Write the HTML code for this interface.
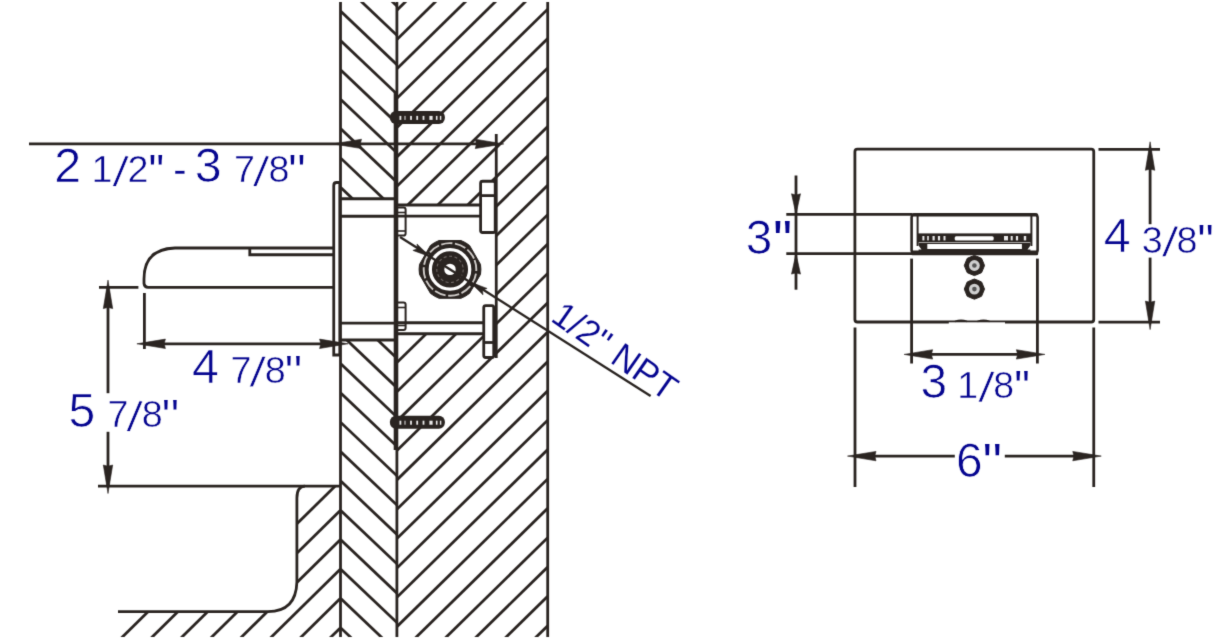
<!DOCTYPE html>
<html><head><meta charset="utf-8"><title>diagram</title>
<style>html,body{margin:0;padding:0;background:#fff}svg{display:block}</style></head>
<body><svg width="1214" height="640" viewBox="0 0 1214 640">
<filter id="soft" x="0" y="0" width="1214" height="640" filterUnits="userSpaceOnUse" color-interpolation-filters="sRGB"><feConvolveMatrix order="3" kernelMatrix="0.0133 0.0888 0.0133 0.0888 0.5917 0.0888 0.0133 0.0888 0.0133" edgeMode="duplicate" preserveAlpha="true"/></filter>
<g filter="url(#soft)">
<rect width="1214" height="640" fill="#fff"/>
<defs>
<clipPath id="cl"><rect x="340.5" y="2.0" width="56.4" height="196.75"/><rect x="340.5" y="340" width="56.4" height="297.0"/></clipPath>
<clipPath id="cr"><path clip-rule="evenodd" d="M396.9 2.0H547.7V637.0H396.9Z M396.9 205H480.6V181.2H496.2V357.5H483.7V333.75H396.9Z"/></clipPath>
<clipPath id="cs"><path d="M340.5 486.1H305Q296.9 486.3 296.9 498V582Q296 611.6 268 611.6H118L96 637.0H340.5Z"/></clipPath>
<clipPath id="cs2"><rect x="90" y="611.6" width="200" height="25.4"/></clipPath>
</defs>
<g clip-path="url(#cl)" stroke="#2a2421" stroke-width="2.8" fill="none">
<line x1="340.50" y1="-76.98" x2="396.90" y2="-23.40"/>
<line x1="340.50" y1="-47.62" x2="396.90" y2="5.96"/>
<line x1="340.50" y1="-18.26" x2="396.90" y2="35.32"/>
<line x1="340.50" y1="11.10" x2="396.90" y2="64.68"/>
<line x1="340.50" y1="40.46" x2="396.90" y2="94.04"/>
<line x1="340.50" y1="69.82" x2="396.90" y2="123.40"/>
<line x1="340.50" y1="99.18" x2="396.90" y2="152.76"/>
<line x1="340.50" y1="128.54" x2="396.90" y2="182.12"/>
<line x1="340.50" y1="157.90" x2="396.90" y2="211.48"/>
<line x1="340.50" y1="187.26" x2="396.90" y2="240.84"/>
<line x1="340.50" y1="216.62" x2="396.90" y2="270.20"/>
<line x1="340.50" y1="245.98" x2="396.90" y2="299.56"/>
<line x1="340.50" y1="275.34" x2="396.90" y2="328.92"/>
<line x1="340.50" y1="304.70" x2="396.90" y2="358.28"/>
<line x1="340.50" y1="334.06" x2="396.90" y2="387.64"/>
<line x1="340.50" y1="363.42" x2="396.90" y2="417.00"/>
<line x1="340.50" y1="392.78" x2="396.90" y2="446.36"/>
<line x1="340.50" y1="422.14" x2="396.90" y2="475.72"/>
<line x1="340.50" y1="451.50" x2="396.90" y2="505.08"/>
<line x1="340.50" y1="480.86" x2="396.90" y2="534.44"/>
<line x1="340.50" y1="510.22" x2="396.90" y2="563.80"/>
<line x1="340.50" y1="539.58" x2="396.90" y2="593.16"/>
<line x1="340.50" y1="568.94" x2="396.90" y2="622.52"/>
<line x1="340.50" y1="598.30" x2="396.90" y2="651.88"/>
<line x1="340.50" y1="627.66" x2="396.90" y2="681.24"/>
<line x1="340.50" y1="657.02" x2="396.90" y2="710.60"/>
</g>
<g clip-path="url(#cr)" stroke="#2a2421" stroke-width="2.8" fill="none">
<line x1="396.90" y1="10.14" x2="547.70" y2="-137.64"/>
<line x1="396.90" y1="39.50" x2="547.70" y2="-108.28"/>
<line x1="396.90" y1="68.86" x2="547.70" y2="-78.92"/>
<line x1="396.90" y1="98.22" x2="547.70" y2="-49.56"/>
<line x1="396.90" y1="127.58" x2="547.70" y2="-20.20"/>
<line x1="396.90" y1="156.94" x2="547.70" y2="9.16"/>
<line x1="396.90" y1="186.30" x2="547.70" y2="38.52"/>
<line x1="396.90" y1="215.66" x2="547.70" y2="67.88"/>
<line x1="396.90" y1="245.02" x2="547.70" y2="97.24"/>
<line x1="396.90" y1="274.38" x2="547.70" y2="126.60"/>
<line x1="396.90" y1="303.74" x2="547.70" y2="155.96"/>
<line x1="396.90" y1="333.10" x2="547.70" y2="185.32"/>
<line x1="396.90" y1="362.46" x2="547.70" y2="214.68"/>
<line x1="396.90" y1="391.82" x2="547.70" y2="244.04"/>
<line x1="396.90" y1="421.18" x2="547.70" y2="273.40"/>
<line x1="396.90" y1="450.54" x2="547.70" y2="302.76"/>
<line x1="396.90" y1="479.90" x2="547.70" y2="332.12"/>
<line x1="396.90" y1="509.26" x2="547.70" y2="361.48"/>
<line x1="396.90" y1="538.62" x2="547.70" y2="390.84"/>
<line x1="396.90" y1="567.98" x2="547.70" y2="420.20"/>
<line x1="396.90" y1="597.34" x2="547.70" y2="449.56"/>
<line x1="396.90" y1="626.70" x2="547.70" y2="478.92"/>
<line x1="396.90" y1="656.06" x2="547.70" y2="508.28"/>
<line x1="396.90" y1="685.42" x2="547.70" y2="537.64"/>
<line x1="396.90" y1="714.78" x2="547.70" y2="567.00"/>
<line x1="396.90" y1="744.14" x2="547.70" y2="596.36"/>
<line x1="396.90" y1="773.50" x2="547.70" y2="625.72"/>
<line x1="396.90" y1="802.86" x2="547.70" y2="655.08"/>
<line x1="396.90" y1="832.22" x2="547.70" y2="684.44"/>
</g>
<g clip-path="url(#cs)" stroke="#2a2421" stroke-width="2.8" fill="none">
<line x1="340.50" y1="480.86" x2="90.00" y2="727.60"/>
<line x1="340.50" y1="510.22" x2="90.00" y2="756.96"/>
<line x1="340.50" y1="539.58" x2="90.00" y2="786.32"/>
<line x1="340.50" y1="568.94" x2="90.00" y2="815.68"/>
<line x1="340.50" y1="598.30" x2="90.00" y2="845.04"/>
<line x1="340.50" y1="627.66" x2="90.00" y2="874.40"/>
<line x1="340.50" y1="657.02" x2="90.00" y2="903.76"/>
</g>
<g clip-path="url(#cs2)" stroke="#2a2421" stroke-width="2.8" fill="none">
<line x1="340.50" y1="422.14" x2="90.00" y2="668.88"/>
<line x1="340.50" y1="451.50" x2="90.00" y2="698.24"/>
</g>
<line x1="340.5" y1="2.0" x2="340.5" y2="637.0" stroke="#2a2421" stroke-width="2.8" />
<line x1="396.9" y1="2.0" x2="396.9" y2="637.0" stroke="#2a2421" stroke-width="2.8" />
<line x1="395.0" y1="92" x2="395.0" y2="450" stroke="#2a2421" stroke-width="2.6" />
<line x1="547.7" y1="2.0" x2="547.7" y2="637.0" stroke="#2a2421" stroke-width="2.8" />
<path d="M98 486.1H340.5" stroke="#2a2421" stroke-width="2.8" fill="none" />
<path d="M305 486.1Q296.9 486.3 296.9 498V582Q296 611.6 268 611.6H118" stroke="#2a2421" stroke-width="2.8" fill="none" />
<path d="M340.5 182.5H336.5Q333.75 182.5 333.75 185.5V355H340.5" stroke="#2a2421" stroke-width="2.8" fill="none" />
<line x1="339.4" y1="184" x2="339.4" y2="355" stroke="#2a2421" stroke-width="2" />
<line x1="340.5" y1="198.75" x2="396.9" y2="198.75" stroke="#2a2421" stroke-width="2.8" />
<line x1="340.5" y1="216.25" x2="396.9" y2="216.25" stroke="#2a2421" stroke-width="2.8" />
<line x1="340.5" y1="323.1" x2="396.9" y2="323.1" stroke="#2a2421" stroke-width="2.8" />
<line x1="340.5" y1="340" x2="396.9" y2="340" stroke="#2a2421" stroke-width="2.8" />
<line x1="396.9" y1="205" x2="480.6" y2="205" stroke="#2a2421" stroke-width="2.8" />
<line x1="396.9" y1="216.2" x2="480.6" y2="216.2" stroke="#2a2421" stroke-width="2.8" />
<line x1="396.9" y1="322.75" x2="483.75" y2="322.75" stroke="#2a2421" stroke-width="2.8" />
<line x1="396.9" y1="333.75" x2="483.75" y2="333.75" stroke="#2a2421" stroke-width="2.8" />
<path d="M396.9 207.5H403.5Q405.6 207.5 405.6 209.5V233.5Q405.6 235.6 403.5 235.6H396.9" stroke="#2a2421" stroke-width="2" fill="none" />
<line x1="396.9" y1="212.5" x2="405" y2="212.5" stroke="#2a2421" stroke-width="1.6" />
<line x1="396.9" y1="231" x2="405" y2="231" stroke="#2a2421" stroke-width="1.6" />
<path d="M396.9 302.5H403.5Q405.6 302.5 405.6 304.5V328Q405.6 330 403.5 330H396.9" stroke="#2a2421" stroke-width="2" fill="none" />
<line x1="396.9" y1="307.5" x2="405" y2="307.5" stroke="#2a2421" stroke-width="1.6" />
<line x1="396.9" y1="325.5" x2="405" y2="325.5" stroke="#2a2421" stroke-width="1.6" />
<rect x="480.6" y="181.25" width="14.6" height="51.25" rx="2" fill="#fff" stroke="#2a2421" stroke-width="2.8"/>
<line x1="480.6" y1="195.6" x2="495" y2="195.6" stroke="#2a2421" stroke-width="2.8" />
<rect x="483.75" y="305.6" width="10" height="51.9" rx="2" fill="#fff" stroke="#2a2421" stroke-width="2.8"/>
<line x1="483.75" y1="342.5" x2="493.75" y2="342.5" stroke="#2a2421" stroke-width="2.8" />
<line x1="496.25" y1="134" x2="496.25" y2="358" stroke="#2a2421" stroke-width="2.8" />
<path d="M333.75 248H175Q144 249 144 279V283.5Q144.5 287.4 148 287.4H333.75" stroke="#2a2421" stroke-width="2.8" fill="none" />
<path d="M249.8 248V254.75H333.75" stroke="#2a2421" stroke-width="2.8" fill="none" />
<line x1="29" y1="143.9" x2="496.25" y2="143.9" stroke="#2a2421" stroke-width="2.8" />
<polygon points="333.00,143.90 361.50,139.20 360.30,143.90 361.50,148.60" fill="#2a2421" stroke="#2a2421" stroke-width="0.6" stroke-linejoin="round"/>
<polygon points="503.75,143.90 475.25,148.60 476.45,143.90 475.25,139.20" fill="#2a2421" stroke="#2a2421" stroke-width="0.6" stroke-linejoin="round"/>
<line x1="144.4" y1="343.8" x2="340.6" y2="343.8" stroke="#2a2421" stroke-width="2.8" />
<line x1="144.4" y1="293" x2="144.4" y2="349" stroke="#2a2421" stroke-width="2.8" />
<polygon points="136.90,343.80 165.40,339.10 164.20,343.80 165.40,348.50" fill="#2a2421" stroke="#2a2421" stroke-width="0.6" stroke-linejoin="round"/>
<polygon points="348.10,343.80 319.60,348.50 320.80,343.80 319.60,339.10" fill="#2a2421" stroke="#2a2421" stroke-width="0.6" stroke-linejoin="round"/>
<line x1="99" y1="287.4" x2="138.4" y2="287.4" stroke="#2a2421" stroke-width="2.8" />
<line x1="108" y1="287.6" x2="108" y2="393.2" stroke="#2a2421" stroke-width="2.8" />
<line x1="108" y1="431.8" x2="108" y2="486" stroke="#2a2421" stroke-width="2.8" />
<polygon points="108.00,280.10 112.70,308.60 108.00,307.40 103.30,308.60" fill="#2a2421" stroke="#2a2421" stroke-width="0.6" stroke-linejoin="round"/>
<polygon points="108.00,493.50 103.30,465.00 108.00,466.20 112.70,465.00" fill="#2a2421" stroke="#2a2421" stroke-width="0.6" stroke-linejoin="round"/>
<line x1="400" y1="237" x2="650.6" y2="396" stroke="#2a2421" stroke-width="2.4" />
<path d="M439.06 240.50L460.94 240.50A30.9 30.9 0 0 1 469.56 245.48L480.50 264.42A30.9 30.9 0 0 1 480.50 274.38L469.56 293.32A30.9 30.9 0 0 1 460.94 298.30L439.06 298.30A30.9 30.9 0 0 1 430.44 293.32L419.50 274.38A30.9 30.9 0 0 1 419.50 264.42L430.44 245.48A30.9 30.9 0 0 1 439.06 240.50Z" fill="#2a2421" stroke="#2a2421" stroke-width="1" stroke-linejoin="round"/>
<circle cx="450" cy="269.4" r="26.3" fill="none" stroke="#cfcbc8" stroke-width="1.9" stroke-dasharray="11.2 2.57" transform="rotate(-21 450 269.4)"/>
<circle cx="450" cy="269.4" r="19.7" fill="none" stroke="#fff" stroke-width="3.3"/>
<circle cx="450" cy="269.4" r="13.2" fill="none" stroke="#6f6865" stroke-width="1.1" stroke-dasharray="3 2.53"/>
<circle cx="450" cy="269.4" r="5.7" fill="#fff"/>
<line x1="424.6685345102776" y1="253.32776132136524" x2="475.3314654897224" y2="285.4722386786347" stroke="#2a2421" stroke-width="2.4" />
<polygon points="430.16,256.81 412.92,250.38 417.49,248.77 416.99,243.96" fill="#2a2421" stroke="#2a2421" stroke-width="0.6" stroke-linejoin="round"/>
<polygon points="469.84,281.99 487.08,288.42 482.51,290.03 483.01,294.84" fill="#2a2421" stroke="#2a2421" stroke-width="0.6" stroke-linejoin="round"/>
<rect x="389.9" y="111.0" width="55" height="13" rx="6" fill="#2a2421"/>
<rect x="399.5" y="115.9" width="1.8" height="4" fill="#fff" opacity="0.9"/>
<rect x="404.5" y="115.9" width="1" height="4" fill="#fff" opacity="0.9"/>
<rect x="410.1" y="115.9" width="1.8" height="4" fill="#fff" opacity="0.9"/>
<rect x="416.3" y="115.9" width="1.8" height="4" fill="#fff" opacity="0.9"/>
<rect x="422.6" y="115.9" width="1.8" height="4" fill="#fff" opacity="0.9"/>
<rect x="429.4" y="115.9" width="3.2" height="4" fill="#fff" opacity="0.9"/>
<rect x="435.9" y="115.9" width="1.6" height="4" fill="#fff" opacity="0.9"/>
<rect x="439.90000000000003" y="115.9" width="1.4" height="4" fill="#fff" opacity="0.9"/>
<rect x="389.9" y="415.8" width="55" height="13" rx="6" fill="#2a2421"/>
<rect x="399.5" y="420.7" width="1.8" height="4" fill="#fff" opacity="0.9"/>
<rect x="404.5" y="420.7" width="1" height="4" fill="#fff" opacity="0.9"/>
<rect x="410.1" y="420.7" width="1.8" height="4" fill="#fff" opacity="0.9"/>
<rect x="416.3" y="420.7" width="1.8" height="4" fill="#fff" opacity="0.9"/>
<rect x="422.6" y="420.7" width="1.8" height="4" fill="#fff" opacity="0.9"/>
<rect x="429.4" y="420.7" width="3.2" height="4" fill="#fff" opacity="0.9"/>
<rect x="435.9" y="420.7" width="1.6" height="4" fill="#fff" opacity="0.9"/>
<rect x="439.90000000000003" y="420.7" width="1.4" height="4" fill="#fff" opacity="0.9"/>
<rect x="854.9" y="149.2" width="238.85" height="172.8" rx="2.5" fill="none" stroke="#2a2421" stroke-width="2.8"/>
<rect x="948.8" y="322.3" width="56.2" height="2.4" fill="#fff"/>
<path d="M955 321.4 Q961 319 967 321.4 M977.5 321.4 Q983.5 319 989.5 321.4" stroke="#2a2421" stroke-width="1.6" fill="none" />
<rect x="911.6" y="214.2" width="126" height="39" rx="3" fill="#fff" stroke="#2a2421" stroke-width="2.6"/>
<rect x="911" y="213.2" width="127.2" height="3.3" rx="1.5" fill="#2a2421"/>
<rect x="911" y="250.6" width="127.2" height="4.6" rx="1.5" fill="#2a2421"/>
<line x1="917.6" y1="215" x2="917.6" y2="246" stroke="#2a2421" stroke-width="2" />
<line x1="1031.4" y1="215" x2="1031.4" y2="246" stroke="#2a2421" stroke-width="2" />
<rect x="917.6" y="233.4" width="113.8" height="9" fill="#2a2421"/>
<rect x="954.7" y="236.2" width="39" height="4.2" rx="1.5" fill="#fff"/>
<rect x="922.4" y="236" width="2" height="4.4" fill="#fff" opacity="0.9"/>
<rect x="927.2" y="236" width="1.6" height="4.4" fill="#fff" opacity="0.9"/>
<rect x="932.5" y="236" width="2.2" height="4.4" fill="#fff" opacity="0.9"/>
<rect x="937.9" y="236" width="2.2" height="4.4" fill="#fff" opacity="0.9"/>
<rect x="943.5" y="236" width="2" height="4.4" fill="#fff" opacity="0.9"/>
<rect x="1004.0" y="236" width="4" height="4.4" fill="#fff" opacity="0.9"/>
<rect x="1010.7" y="236" width="2" height="4.4" fill="#fff" opacity="0.9"/>
<rect x="1015.9" y="236" width="2.2" height="4.4" fill="#fff" opacity="0.9"/>
<rect x="1023.8" y="236" width="2.4" height="4.4" fill="#fff" opacity="0.9"/>
<rect x="918.6" y="243" width="111.8" height="8" fill="#2a2421"/>
<rect x="927.3" y="244" width="94.6" height="5" fill="#fff"/>
<polygon points="914,249.6 921.5,249.6 918.5,245.5" fill="#fff"/>
<polygon points="1035,249.6 1027.5,249.6 1030.5,245.5" fill="#fff"/>
<line x1="911.6" y1="258.6" x2="911.6" y2="363.5" stroke="#2a2421" stroke-width="2.8" />
<line x1="1037.4" y1="258.6" x2="1037.4" y2="363.5" stroke="#2a2421" stroke-width="2.8" />
<polygon points="984.50,265.50 983.08,269.10 981.54,272.64 978.00,274.18 974.40,275.60 970.80,274.18 967.26,272.64 965.72,269.10 964.30,265.50 965.72,261.90 967.26,258.36 970.80,256.82 974.40,255.40 978.00,256.82 981.54,258.36 983.08,261.90" fill="#2a2421" stroke="#2a2421" stroke-width="1" stroke-linejoin="round"/>
<circle cx="974.4" cy="265.5" r="5.4" fill="#cfcfcf"/>
<circle cx="974.4" cy="265.5" r="2.3" fill="#555"/>
<polygon points="984.50,289.10 983.08,292.70 981.54,296.24 978.00,297.78 974.40,299.20 970.80,297.78 967.26,296.24 965.72,292.70 964.30,289.10 965.72,285.50 967.26,281.96 970.80,280.42 974.40,279.00 978.00,280.42 981.54,281.96 983.08,285.50" fill="#2a2421" stroke="#2a2421" stroke-width="1" stroke-linejoin="round"/>
<circle cx="974.4" cy="289.1" r="5.4" fill="#cfcfcf"/>
<circle cx="974.4" cy="289.1" r="2.3" fill="#555"/>
<line x1="786.3" y1="214.3" x2="912" y2="214.3" stroke="#2a2421" stroke-width="2.8" />
<line x1="786.3" y1="253.7" x2="912" y2="253.7" stroke="#2a2421" stroke-width="2.8" />
<line x1="796" y1="175.5" x2="796" y2="289.7" stroke="#2a2421" stroke-width="2.8" />
<polygon points="796.00,214.30 791.50,193.80 796.00,195.00 800.50,193.80" fill="#2a2421" stroke="#2a2421" stroke-width="0.6" stroke-linejoin="round"/>
<polygon points="796.00,253.60 800.50,274.10 796.00,272.90 791.50,274.10" fill="#2a2421" stroke="#2a2421" stroke-width="0.6" stroke-linejoin="round"/>
<line x1="1098.5" y1="149.4" x2="1160" y2="149.4" stroke="#2a2421" stroke-width="2.8" />
<line x1="1098.5" y1="322.1" x2="1160" y2="322.1" stroke="#2a2421" stroke-width="2.8" />
<line x1="1150.1" y1="149.3" x2="1150.1" y2="224.2" stroke="#2a2421" stroke-width="2.8" />
<line x1="1150.1" y1="257.6" x2="1150.1" y2="322" stroke="#2a2421" stroke-width="2.8" />
<polygon points="1150.10,141.80 1154.80,170.30 1150.10,169.10 1145.40,170.30" fill="#2a2421" stroke="#2a2421" stroke-width="0.6" stroke-linejoin="round"/>
<polygon points="1150.10,329.60 1145.40,301.10 1150.10,302.30 1154.80,301.10" fill="#2a2421" stroke="#2a2421" stroke-width="0.6" stroke-linejoin="round"/>
<line x1="911.6" y1="354.4" x2="1037.4" y2="354.4" stroke="#2a2421" stroke-width="2.8" />
<polygon points="904.10,354.40 932.60,349.70 931.40,354.40 932.60,359.10" fill="#2a2421" stroke="#2a2421" stroke-width="0.6" stroke-linejoin="round"/>
<polygon points="1044.90,354.40 1016.40,359.10 1017.60,354.40 1016.40,349.70" fill="#2a2421" stroke="#2a2421" stroke-width="0.6" stroke-linejoin="round"/>
<line x1="855" y1="327.5" x2="855" y2="487" stroke="#2a2421" stroke-width="2.8" />
<line x1="1093.75" y1="327.5" x2="1093.75" y2="487" stroke="#2a2421" stroke-width="2.8" />
<line x1="855" y1="456.1" x2="954.8" y2="456.1" stroke="#2a2421" stroke-width="2.8" />
<line x1="1004.8" y1="456.1" x2="1093.75" y2="456.1" stroke="#2a2421" stroke-width="2.8" />
<polygon points="847.50,456.10 876.00,451.40 874.80,456.10 876.00,460.80" fill="#2a2421" stroke="#2a2421" stroke-width="0.6" stroke-linejoin="round"/>
<polygon points="1101.25,456.10 1072.75,460.80 1073.95,456.10 1072.75,451.40" fill="#2a2421" stroke="#2a2421" stroke-width="0.6" stroke-linejoin="round"/>
<g font-family="'Liberation Sans', sans-serif" fill="#060690" stroke="#fff">
<text><tspan x="54.21" y="182.20" font-size="48.43" stroke-width="0.7">2</tspan> <tspan x="91.58" y="182.20" font-size="37.70" stroke-width="0.5">1</tspan><tspan x="112.77" y="185.50" font-size="43.00" stroke-width="0.5" rotate="7.5">/</tspan><tspan x="127.44" y="182.20" font-size="37.70" stroke-width="0.5">2</tspan><tspan x="148.30" y="186.06" font-size="44.00" stroke-width="0.2" letter-spacing="-0.76">&#39;&#39;</tspan> <tspan x="173.30" y="183.30" font-size="40.00" stroke-width="0.3">-</tspan> <tspan x="194.74" y="182.30" font-size="48.23" stroke-width="0.7">3</tspan> <tspan x="234.12" y="182.20" font-size="37.70" stroke-width="0.5">7</tspan><tspan x="253.37" y="185.50" font-size="43.00" stroke-width="0.5" rotate="7.5">/</tspan><tspan x="268.44" y="182.20" font-size="37.70" stroke-width="0.5">8</tspan><tspan x="288.30" y="186.06" font-size="44.00" stroke-width="0.2" letter-spacing="0.54">&#39;&#39;</tspan></text>
<text><tspan x="192.01" y="382.70" font-size="48.41" stroke-width="0.7">4</tspan> <tspan x="230.52" y="382.70" font-size="37.70" stroke-width="0.5">7</tspan><tspan x="249.77" y="386.00" font-size="43.00" stroke-width="0.5" rotate="7.5">/</tspan><tspan x="264.84" y="382.70" font-size="37.70" stroke-width="0.5">8</tspan><tspan x="284.70" y="386.56" font-size="44.00" stroke-width="0.2" letter-spacing="0.54">&#39;&#39;</tspan></text>
<text><tspan x="68.49" y="427.20" font-size="48.13" stroke-width="0.7">5</tspan> <tspan x="107.52" y="427.20" font-size="37.70" stroke-width="0.5">7</tspan><tspan x="126.77" y="430.50" font-size="43.00" stroke-width="0.5" rotate="7.5">/</tspan><tspan x="141.84" y="427.20" font-size="37.70" stroke-width="0.5">8</tspan><tspan x="161.70" y="431.06" font-size="44.00" stroke-width="0.2" letter-spacing="0.54">&#39;&#39;</tspan></text>
<text><tspan x="745.84" y="254.10" font-size="47.66" stroke-width="0.7">3</tspan><tspan x="772.39" y="259.03" font-size="56.28" stroke-width="0.2" letter-spacing="-1.01">&#39;&#39;</tspan></text>
<text><tspan x="1103.79" y="252.00" font-size="48.41" stroke-width="0.7">4</tspan> <tspan x="1141.69" y="252.50" font-size="37.70" stroke-width="0.5">3</tspan><tspan x="1162.37" y="255.80" font-size="43.00" stroke-width="0.5" rotate="7.5">/</tspan><tspan x="1176.54" y="252.50" font-size="37.70" stroke-width="0.5">8</tspan><tspan x="1197.30" y="256.36" font-size="44.00" stroke-width="0.2" letter-spacing="-0.16">&#39;&#39;</tspan></text>
<text><tspan x="920.40" y="398.30" font-size="47.80" stroke-width="0.7">3</tspan> <tspan x="957.35" y="398.00" font-size="37.41" stroke-width="0.5">1</tspan><tspan x="978.47" y="401.30" font-size="43.00" stroke-width="0.5" rotate="7.5">/</tspan><tspan x="993.13" y="398.00" font-size="37.41" stroke-width="0.5">8</tspan><tspan x="1014.00" y="402.06" font-size="44.00" stroke-width="0.2" letter-spacing="-0.76">&#39;&#39;</tspan></text>
<text><tspan x="956.07" y="477.20" font-size="47.80" stroke-width="0.7">6</tspan><tspan x="982.17" y="479.87" font-size="52.56" stroke-width="0.2" letter-spacing="0.13">&#39;&#39;</tspan></text>
<text transform="translate(551.7,321.8) rotate(34.92) scale(0.9798,1)" x="-2.70" y="0" font-size="36" stroke-width="0.15">1/2&#39;&#39; NPT</text>
</g>
</g>
</svg></body></html>
